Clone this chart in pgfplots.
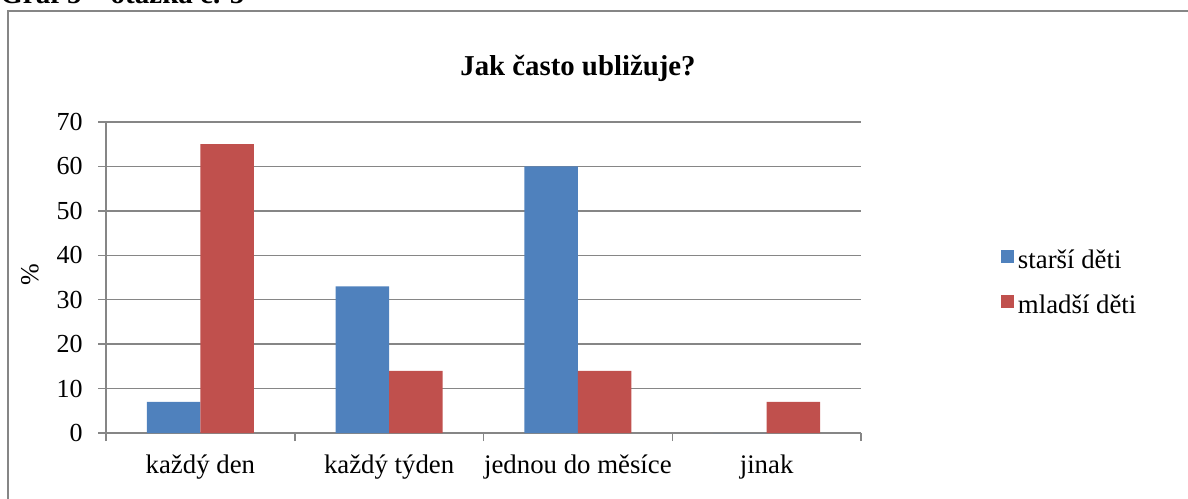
\documentclass[border=0pt]{standalone}
\usepackage{fontspec}
\setmainfont{Liberation Serif}
\usepackage{pgfplots}
\pgfplotsset{compat=1.18}
\definecolor{sblue}{HTML}{4F81BD}
\definecolor{sred}{HTML}{C0504D}
\definecolor{lgray}{HTML}{868686}
\begin{document}
\begin{tikzpicture}
\useasboundingbox (0,0) rectangle (594pt,249pt);
\draw[lgray, line width=0.75pt] (4pt,-10pt) -- (4pt,243.5pt) -- (610pt,243.5pt);
\node[anchor=base west, inner sep=0pt, font=\fontsize{14.5}{17}\selectfont\bfseries] at (0pt,247pt) {Graf 5 – otázka č. 5};
\begin{axis}[
  at={(53pt,32.5pt)}, anchor=south west,
  scale only axis, width=377.5pt, height=155.5pt,
  ybar=0pt, bar width=26.8pt,
  xmin=-0.5, xmax=3.5, ymin=0, ymax=70,
  xtick={-0.5,0.5,1.5,2.5,3.5},
  xticklabels={,,,,},
  extra x ticks={0,1,2,3},
  extra x tick labels={každý den, každý týden, jednou do měsíce, jinak},
  extra x tick style={grid=none, major tick length=0pt,
    xticklabel style={anchor=base, inner sep=0pt, yshift=-20pt, font=\fontsize{13.4}{16}\selectfont}},
  ytick={0,10,...,70},
  axis lines*=left,
  axis line style={lgray, line width=0.75pt},
  tick align=outside,
  major tick length=4pt,
  tick style={lgray, line width=0.75pt},
  ymajorgrids,
  major grid style={lgray, line width=0.75pt},
  /pgf/number format/assume math mode=true,
  yticklabel style={anchor=east, inner sep=0pt, xshift=-7.5pt, font=\fontsize{13}{15}\selectfont},
  ylabel={\%},
  ylabel style={at={(axis description cs:-0.1007,0.508)}, anchor=center, inner sep=0pt, font=\fontsize{13}{15}\selectfont},
  legend style={at={(1.1854,0.4775)}, anchor=west, draw=none, fill=none,
    inner sep=0pt, outer sep=0pt, row sep=10.5pt, column sep=2pt,
    font=\fontsize{13.4}{16}\selectfont,
    nodes={inner sep=0pt, text height=9pt, text depth=3pt}},
  legend cell align=left,
]
\addplot[fill=sblue, draw=none, legend image code/.code={\fill[sblue] (0pt,-0.5pt) rectangle (6.5pt,6pt);}]
  coordinates {(0,7) (1,33) (2,60) (3,0)};
\addplot[fill=sred, draw=none, legend image code/.code={\fill[sred] (0pt,-0.5pt) rectangle (6.5pt,6pt);}]
  coordinates {(0,65) (1,14) (2,14) (3,7)};
\legend{starší děti, mladší děti}
\end{axis}
\node[anchor=base, inner sep=0pt, font=\fontsize{14.4}{17}\selectfont\bfseries] at (289pt,211pt) {Jak často ubližuje?};
\end{tikzpicture}
\end{document}
